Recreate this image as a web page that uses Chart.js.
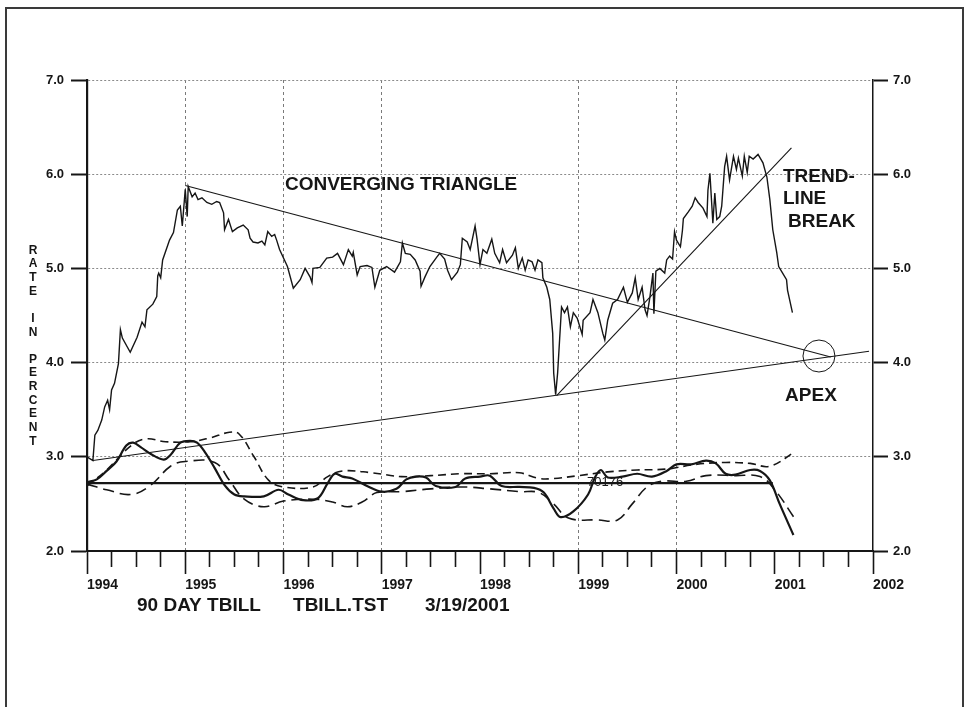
<!DOCTYPE html>
<html>
<head>
<meta charset="utf-8">
<script src="https://cdn.jsdelivr.net/npm/chart.js@4.4.1/dist/chart.umd.min.js"></script>
<style>
  html,body{margin:0;padding:0;background:#fff;overflow:hidden;width:968px;height:707px;}
  #wrap{position:absolute;left:0;top:0;width:968px;height:707px;}
  #frame{position:absolute;left:5px;top:7px;width:959px;height:740px;border:2px solid #3a3a3a;box-sizing:border-box;}
  canvas{position:absolute;left:0;top:0;}
</style>
</head>
<body>
<div id="wrap">
<div id="frame"></div>
<canvas id="c" width="968" height="707"></canvas>
</div>
<script>
// ---- axis ticks ----
const yearTicks = [1994, 1995, 1996, 1997, 1998, 1999, 2000, 2001, 2002];
const gridYears = [1995, 1996, 1997, 1999, 2000];
const rateTicks = [2, 3, 4, 5, 6, 7];

// ---- 90 day T-bill rate (year, percent) ----
const priceX = [1994.00,1994.06,1994.08,1994.11,1994.15,1994.18,1994.21,1994.23,1994.25,1994.28,1994.32,1994.34,1994.36,1994.44,1994.51,1994.56,1994.59,1994.61,1994.67,1994.71,1994.72,1994.73,1994.75,1994.77,1994.84,1994.88,1994.92,1994.95,1994.97,1995.00,1995.02,1995.03,1995.07,1995.10,1995.13,1995.17,1995.22,1995.27,1995.32,1995.35,1995.39,1995.40,1995.44,1995.48,1995.53,1995.59,1995.64,1995.66,1995.69,1995.74,1995.78,1995.81,1995.84,1995.88,1995.91,1995.93,1995.96,1996.04,1996.10,1996.17,1996.22,1996.27,1996.29,1996.30,1996.37,1996.44,1996.50,1996.55,1996.61,1996.66,1996.70,1996.71,1996.75,1996.78,1996.85,1996.90,1996.93,1996.98,1997.05,1997.13,1997.19,1997.21,1997.24,1997.29,1997.34,1997.39,1997.40,1997.44,1997.49,1997.56,1997.59,1997.64,1997.67,1997.71,1997.77,1997.80,1997.82,1997.87,1997.90,1997.95,1997.97,1998.00,1998.03,1998.07,1998.12,1998.15,1998.20,1998.23,1998.27,1998.33,1998.36,1998.39,1998.43,1998.46,1998.49,1998.53,1998.56,1998.59,1998.63,1998.64,1998.68,1998.71,1998.74,1998.75,1998.77,1998.79,1998.81,1998.83,1998.86,1998.89,1998.92,1998.95,1998.99,1999.04,1999.05,1999.12,1999.15,1999.20,1999.25,1999.27,1999.30,1999.35,1999.40,1999.46,1999.50,1999.55,1999.58,1999.61,1999.65,1999.68,1999.70,1999.73,1999.76,1999.77,1999.79,1999.83,1999.88,1999.90,1999.93,1999.96,1999.98,2000.00,2000.04,2000.06,2000.07,2000.12,2000.16,2000.19,2000.22,2000.27,2000.31,2000.32,2000.34,2000.36,2000.37,2000.39,2000.41,2000.44,2000.46,2000.49,2000.51,2000.54,2000.58,2000.61,2000.63,2000.67,2000.69,2000.72,2000.74,2000.78,2000.83,2000.88,2000.92,2000.95,2000.98,2001.02,2001.04,2001.08,2001.12,2001.13,2001.18];
const priceY = [3.00,2.96,3.23,3.28,3.39,3.53,3.60,3.50,3.71,3.78,3.99,4.35,4.26,4.11,4.27,4.43,4.38,4.56,4.62,4.70,4.92,4.95,4.90,5.09,5.30,5.38,5.62,5.66,5.45,5.84,5.55,5.87,5.76,5.80,5.73,5.75,5.70,5.68,5.71,5.70,5.59,5.41,5.52,5.39,5.43,5.46,5.41,5.32,5.28,5.27,5.29,5.25,5.39,5.34,5.36,5.30,5.20,5.02,4.79,4.88,5.00,4.91,4.85,5.00,5.01,5.11,5.12,5.16,5.04,5.20,5.13,5.17,4.93,5.02,5.03,5.01,4.80,4.98,5.02,4.96,5.07,5.27,5.16,5.15,5.09,4.97,4.81,4.91,5.02,5.12,5.16,5.10,4.98,4.88,4.96,5.04,5.32,5.28,5.20,5.45,5.31,5.04,5.20,5.16,5.31,5.16,5.06,5.20,5.06,5.14,5.22,5.00,5.11,4.98,5.09,5.07,4.98,5.09,5.06,4.90,4.80,4.67,4.31,3.89,3.66,3.89,4.24,4.59,4.53,4.59,4.38,4.53,4.47,4.30,4.45,4.53,4.67,4.53,4.31,4.24,4.45,4.63,4.67,4.80,4.64,4.74,4.90,4.67,4.80,4.56,4.50,4.70,4.95,4.52,4.97,5.00,4.95,5.09,5.13,5.10,5.39,5.30,5.23,5.40,5.53,5.60,5.66,5.75,5.70,5.64,5.55,5.83,6.01,5.66,5.48,5.80,5.52,5.55,5.66,6.08,6.19,5.94,6.19,6.05,6.17,5.98,6.19,6.02,6.19,6.16,6.21,6.12,5.97,5.73,5.41,5.17,5.02,4.95,4.88,4.77,4.53];

// ---- trendlines ----
const upperX = [1995.00, 2001.57], upperY = [5.88, 4.06];
const lowerX = [1994.06, 2001.96], lowerY = [2.96, 4.12];
const riseX  = [1998.78, 2001.17], riseY  = [3.65, 6.28];
const apexX = [2001.45], apexY = [4.07];

// ---- lower oscillators ----
const solidX = [1994.00,1994.10,1994.20,1994.30,1994.40,1994.47,1994.55,1994.65,1994.78,1994.85,1994.95,1995.05,1995.12,1995.20,1995.30,1995.40,1995.50,1995.60,1995.80,1995.95,1996.05,1996.20,1996.35,1996.45,1996.52,1996.60,1996.70,1996.85,1997.00,1997.15,1997.25,1997.35,1997.45,1997.55,1997.75,1997.85,1998.00,1998.10,1998.22,1998.40,1998.55,1998.65,1998.75,1998.82,1998.95,1999.10,1999.17,1999.23,1999.30,1999.45,1999.60,1999.75,1999.90,2000.00,2000.15,2000.30,2000.40,2000.50,2000.60,2000.75,2000.85,2000.95,2001.05,2001.19];
const solidY = [2.73,2.76,2.85,2.95,3.12,3.15,3.10,3.03,2.97,3.02,3.15,3.17,3.15,3.05,2.88,2.70,2.60,2.58,2.58,2.65,2.60,2.54,2.56,2.72,2.82,2.79,2.77,2.69,2.63,2.66,2.76,2.79,2.78,2.69,2.68,2.77,2.79,2.80,2.69,2.68,2.67,2.62,2.45,2.36,2.42,2.60,2.78,2.86,2.78,2.79,2.82,2.79,2.85,2.92,2.92,2.96,2.93,2.82,2.81,2.86,2.85,2.75,2.50,2.17];
const fastX = [1994.00,1994.20,1994.45,1994.65,1994.85,1995.00,1995.30,1995.45,1995.60,1995.80,1996.00,1996.30,1996.50,1996.65,1996.80,1996.95,1997.20,1997.50,1997.80,1998.10,1998.40,1998.60,1998.75,1998.90,1999.20,1999.40,1999.55,1999.70,1999.85,2000.10,2000.30,2000.60,2000.85,2001.00,2001.20];
const fastY = [2.71,2.65,2.60,2.70,2.90,2.95,2.94,2.75,2.55,2.47,2.53,2.55,2.52,2.47,2.52,2.62,2.63,2.66,2.68,2.66,2.63,2.62,2.50,2.35,2.33,2.33,2.50,2.68,2.74,2.74,2.80,2.80,2.79,2.65,2.35];
const slowX = [1994.00,1994.20,1994.45,1994.60,1994.80,1995.05,1995.25,1995.45,1995.55,1995.70,1995.85,1996.00,1996.30,1996.45,1996.60,1996.90,1997.20,1997.50,1997.80,1998.10,1998.40,1998.60,1998.75,1999.00,1999.30,1999.60,1999.90,2000.20,2000.50,2000.75,2000.95,2001.20];
const slowY = [2.69,2.86,3.12,3.19,3.16,3.16,3.20,3.26,3.24,3.00,2.75,2.68,2.68,2.79,2.85,2.83,2.79,2.80,2.82,2.82,2.83,2.77,2.77,2.80,2.84,2.86,2.87,2.92,2.94,2.93,2.90,3.05];
const levelX = [1994.00, 2000.98], levelY = [2.72, 2.72];

// ---- text ----
const yTitle = 'RATE IN PERCENT';
const notes = [
  {text: 'CONVERGING TRIANGLE', x: 1996.015, y: 5.89, font: 'bold 19px "Liberation Sans", Arial, sans-serif'},
  {text: 'TREND-', x: 2001.084, y: 5.976, font: 'bold 19px "Liberation Sans", Arial, sans-serif'},
  {text: 'LINE', x: 2001.084, y: 5.74, font: 'bold 19px "Liberation Sans", Arial, sans-serif'},
  {text: 'BREAK', x: 2001.135, y: 5.49, font: 'bold 19px "Liberation Sans", Arial, sans-serif'},
  {text: 'APEX', x: 2001.105, y: 3.645, font: 'bold 19px "Liberation Sans", Arial, sans-serif'},
  {text: '70176', x: 1999.09, y: 2.73, font: '13px "Liberation Sans", Arial, sans-serif'},
  {text: '90 DAY TBILL', x: 1994.509, y: 1.42, font: 'bold 19px "Liberation Sans", Arial, sans-serif'},
  {text: 'TBILL.TST', x: 1996.097, y: 1.42, font: 'bold 19px "Liberation Sans", Arial, sans-serif'},
  {text: '3/19/2001', x: 1997.44, y: 1.42, font: 'bold 19px "Liberation Sans", Arial, sans-serif'}
];

const pts = (xs, ys) => xs.map((x, i) => ({x: x, y: ys[i]}));
const INK = '#161616';

const textPlugin = {
  id: 'texts',
  afterDatasetsDraw(chart) {
    const {ctx, scales: {x, y}} = chart;
    ctx.save();
    ctx.fillStyle = INK;
    ctx.textBaseline = 'middle';
    ctx.textAlign = 'left';
    notes.forEach(n => {
      ctx.font = n.font;
      ctx.fillText(n.text, x.getPixelForValue(n.x), y.getPixelForValue(n.y));
    });
    // stacked vertical axis title
    ctx.font = 'bold 12px "Liberation Sans", Arial, sans-serif';
    ctx.textAlign = 'center';
    const cx = x.getPixelForValue(1993.45);
    let v = 5.19;
    for (const ch of yTitle) {
      if (ch !== ' ') ctx.fillText(ch, cx, y.getPixelForValue(v));
      v -= 0.1447;
    }
    ctx.restore();
  }
};

const lineDs = (data, opts) => Object.assign({
  data: data, borderColor: INK, borderWidth: 1, pointRadius: 0, tension: 0, fill: false
}, opts);

new Chart(document.getElementById('c'), {
  type: 'line',
  data: {
    datasets: [
      lineDs(pts(upperX, upperY), {borderWidth: 1.1}),
      lineDs(pts(lowerX, lowerY), {borderWidth: 1.1}),
      lineDs(pts(riseX, riseY), {borderWidth: 1.1}),
      lineDs(pts(levelX, levelY), {borderWidth: 2.2}),
      lineDs(pts(fastX, fastY), {borderWidth: 1.6, borderDash: [11, 6], tension: 0.4}),
      lineDs(pts(slowX, slowY), {borderWidth: 1.6, borderDash: [8, 5], tension: 0.4}),
      lineDs(pts(solidX, solidY), {borderWidth: 2.2, tension: 0.35}),
      lineDs(pts(priceX, priceY), {borderWidth: 1.4}),
      lineDs(pts(apexX, apexY), {showLine: false, pointRadius: 16, pointBorderWidth: 1, pointBorderColor: INK, pointBackgroundColor: 'rgba(0,0,0,0)'})
    ]
  },
  options: {
    responsive: false,
    animation: false,
    events: [],
    layout: {padding: {top: 80, left: 0, right: 0, bottom: 0}},
    plugins: {legend: {display: false}, tooltip: {enabled: false}, title: {display: false}},
    scales: {
      x: {
        type: 'linear', position: 'bottom',
        min: yearTicks[0], max: yearTicks[yearTicks.length - 1],
        afterBuildTicks: s => {
          const t = [];
          yearTicks.forEach((yr, i) => {
            t.push({value: yr});
            if (i < yearTicks.length - 1) [0.25, 0.5, 0.75].forEach(q => t.push({value: yr + q}));
          });
          s.ticks = t;
        },
        afterFit: s => { s.height = 156; },
        ticks: {
          autoSkip: false, maxRotation: 0, minRotation: 0, align: 'start', padding: 3,
          color: INK, font: {family: '"Liberation Sans", Arial, sans-serif', size: 14, weight: 'bold'},
          callback: v => (Number.isInteger(v) ? String(v) : '')
        },
        grid: {
          drawOnChartArea: true, drawTicks: true, tickLength: 23, tickWidth: 1.6, tickColor: INK,
          lineWidth: 1,
          color: c => (c.tick && gridYears.includes(c.tick.value) ? '#7a7a7a' : 'rgba(0,0,0,0)'),
          tickBorderDash: c => (c.tick && Number.isInteger(c.tick.value) ? [] : [15, 100])
        },
        border: {display: true, color: INK, width: 2, dash: [3, 3]}
      },
      y: {
        type: 'linear', position: 'left',
        min: rateTicks[0], max: rateTicks[rateTicks.length - 1],
        afterBuildTicks: s => { s.ticks = rateTicks.map(v => ({value: v})); },
        afterFit: s => { s.width = 87; },
        ticks: {
          padding: 7, color: INK,
          font: {family: '"Liberation Sans", Arial, sans-serif', size: 13, weight: 'bold'},
          callback: v => Number(v).toFixed(1)
        },
        grid: {
          drawTicks: true, tickLength: 16, tickWidth: 2, tickColor: INK, lineWidth: 1,
          color: c => (c.tick && c.tick.value > rateTicks[0] ? '#8a8a8a' : 'rgba(0,0,0,0)')
        },
        border: {display: true, color: INK, width: 2.2, dash: [2, 2]}
      },
      y2: {
        type: 'linear', position: 'right',
        min: rateTicks[0], max: rateTicks[rateTicks.length - 1],
        afterBuildTicks: s => { s.ticks = rateTicks.map(v => ({value: v})); },
        afterFit: s => { s.width = 95; },
        ticks: {
          padding: 5, color: INK,
          font: {family: '"Liberation Sans", Arial, sans-serif', size: 13, weight: 'bold'},
          callback: v => Number(v).toFixed(1)
        },
        grid: {drawOnChartArea: false, drawTicks: true, tickLength: 15, tickWidth: 2, tickColor: INK},
        border: {display: true, color: INK, width: 1.5}
      }
    }
  },
  plugins: [textPlugin]
});
</script>
</body>
</html>
